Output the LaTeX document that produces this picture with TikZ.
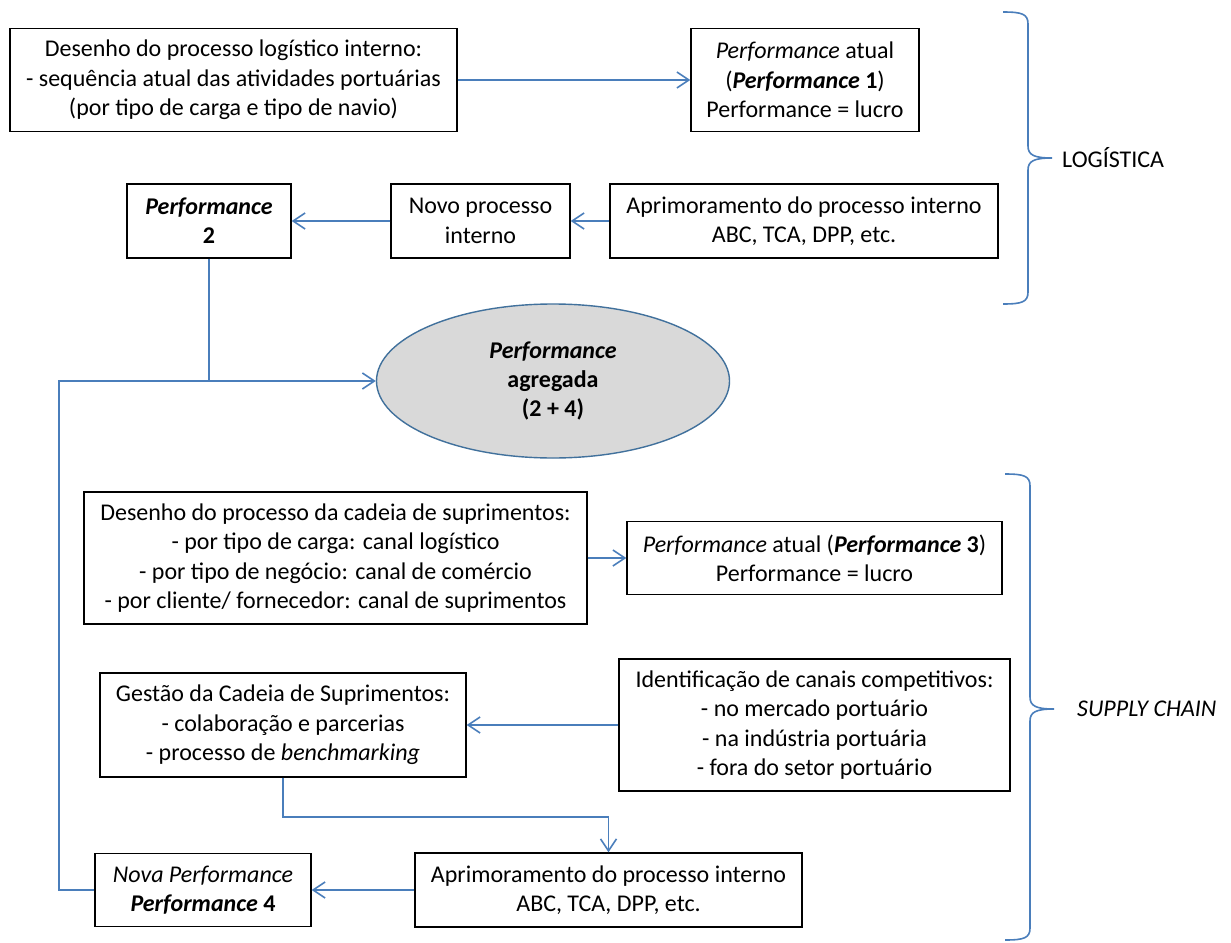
\documentclass[tikz,border=0pt]{standalone}
\usepackage{fontspec}
\setmainfont{Carlito}
\usetikzlibrary{arrows.meta,shapes.geometric}
\definecolor{conn}{HTML}{4A7EBB}
\definecolor{ovalfill}{HTML}{D9D9D9}
\definecolor{ovalline}{HTML}{41719C}
\tikzset{
  txt/.style={font=\fontsize{24}{29.3}\selectfont},
  box/.style={txt, draw=black, line width=1.3pt, inner sep=0pt, align=center},
  link/.style={draw=conn, line width=1.8pt},
  arr/.style={link, -{Straight Barb[length=12pt,width=16pt,line width=1.6pt]}},
  bracepath/.style={draw=conn, line width=1.6pt},
}
% right-hand curly brace: hooks at x0, spine at x1, tip at x2
\newcommand{\sidebrace}[6]{%
  \draw[bracepath] (#1,#4) .. controls (#2-6,#4) and (#2,#4+2) .. (#2,#4+12)
    -- (#2,#6-12) .. controls (#2,#6-3) and (#2+6,#6) .. (#3,#6)
    (#3,#6) .. controls (#2+6,#6) and (#2,#6+3) .. (#2,#6+12)
    -- (#2,#5-12) .. controls (#2,#5-2) and (#2-6,#5) .. (#1,#5);}
\begin{document}
\begin{tikzpicture}[x=1pt,y=-1pt]
\useasboundingbox (0,0) rectangle (1231,942);
\fill[white] (0,0) rectangle (1231,942);

% logistics block
\node[box, minimum width=447pt, minimum height=103pt] (des1) at (233.5,80)
  {Desenho do processo logístico interno:\\- sequência atual das atividades portuárias\\(por tipo de carga e tipo de navio)};
\node[box, minimum width=228pt, minimum height=103pt] (perf1) at (805,80)
  {\textit{Performance} atual\\(\textbf{\textit{Performance} 1})\\Performance = lucro};
\node[box, minimum width=388pt, minimum height=74pt] (apr1) at (804,221)
  {Aprimoramento do processo interno\\ABC, TCA, DPP, etc.};
\node[box, minimum width=179pt, minimum height=74pt] (novo) at (480.5,221)
  {Novo processo\\interno};
\node[box, minimum width=164pt, minimum height=74pt] (perf2) at (209,221)
  {\textbf{\textit{Performance}}\\\textbf{2}};

% aggregated performance
\node[txt, draw=ovalline, fill=ovalfill, line width=1.4pt, ellipse, inner sep=0pt,
      minimum width=353pt, minimum height=154pt, align=center] (agg) at (553,381)
  {\textbf{\textit{Performance}}\\\textbf{agregada}\\\textbf{(2 + 4)}};

% supply chain block
\node[box, minimum width=503pt, minimum height=132pt] (des2) at (335.5,558)
  {Desenho do processo da cadeia de suprimentos:\\- por tipo de carga: canal logístico\\- por tipo de negócio: canal de comércio\\- por cliente/ fornecedor: canal de suprimentos};
\node[box, minimum width=375pt, minimum height=73pt] (perf3) at (814.5,558)
  {\textit{Performance} atual (\textbf{\textit{Performance} 3})\\Performance = lucro};
\node[box, minimum width=366pt, minimum height=104pt] (gest) at (283,725)
  {Gestão da Cadeia de Suprimentos:\\- colaboração e parcerias\\- processo de \textit{benchmarking}};
\node[box, minimum width=391pt, minimum height=132pt] (ident) at (814.5,725)
  {Identificação de canais competitivos:\\- no mercado portuário\\- na indústria portuária\\- fora do setor portuário};
\node[box, minimum width=387pt, minimum height=74pt] (apr2) at (608.5,890)
  {Aprimoramento do processo interno\\ABC, TCA, DPP, etc.};
\node[box, minimum width=216pt, minimum height=73pt] (nova) at (203,890)
  {\textit{Nova Performance}\\\textbf{\textit{Performance} 4}};

% connectors
\draw[arr] (des1.east) -- (perf1.west);
\draw[arr] (apr1.west) -- (novo.east);
\draw[arr] (novo.west) -- (perf2.east);
\draw[arr] (perf2.south) |- (agg.west);
\coordinate (loopcorner) at (59,381);
\draw[link] (nova.west) -| (loopcorner) -- (perf2.south |- agg.west);
\draw[arr] (des2.east) -- (perf3.west);
\draw[arr] (ident.west) -- (gest.east);
\draw[arr] (gest.south) -- ++(0,39) -| (apr2.north);
\draw[arr] (apr2.west) -- (nova.east);

% braces and their labels
\sidebrace{1003}{1028}{1052}{12}{304}{158}
\node[txt, anchor=west, inner sep=0pt] (lbl1) at (1062,158) {LOGÍSTICA};
\sidebrace{1005}{1030}{1054}{474}{940}{709}
\node[txt, anchor=west, inner sep=0pt] (lbl2) at (1077,709) {\textit{SUPPLY CHAIN}};
\end{tikzpicture}
\end{document}
